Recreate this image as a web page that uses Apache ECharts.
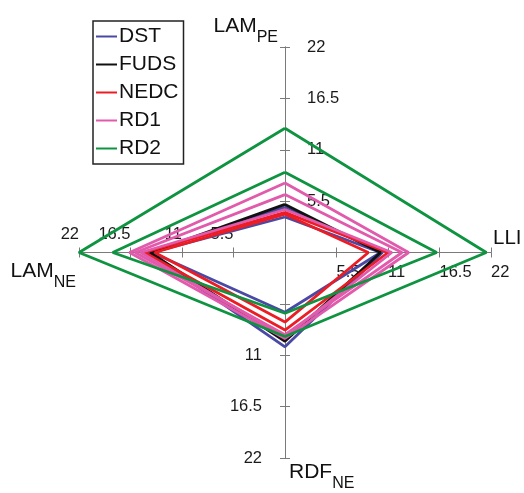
<!DOCTYPE html>
<html>
<head>
<meta charset="utf-8">
<script src="https://cdn.jsdelivr.net/npm/echarts@6/dist/echarts.min.js"></script>
<style>html,body{margin:0;padding:0;background:#fff;}#c{width:524px;height:493px;}</style>
</head>
<body>
<div id="c"></div>
<script>
// Axis order of every polygon: [LAM_PE (up), LLI (right), RDF_NE (down), LAM_NE (left)]
const indicators = ['LAM_PE', 'LLI', 'RDF_NE', 'LAM_NE'];
const tickValues = [5.5, 11, 16.5, 22];
const testNames = ['DST', 'FUDS', 'NEDC', 'RD1', 'RD2'];
const DST  = [[4.85, 10.4, 10.1, 14.6], [3.8, 10.2, 6.4, 14.2]];
const FUDS = [[5.15, 10.2, 9.5, 14.4]];
const NEDC = [[4.3, 11.0, 8.3, 15.0], [4.1, 8.9, 7.45, 13.9]];
const RD1  = [[7.45, 13.2, 9.2, 16.6], [6.2, 12.5, 8.8, 16.0], [4.6, 11.4, 9.0, 15.4]];
const RD2  = [[13.3, 21.5, 9.0, 22.0], [8.6, 16.2, 6.5, 18.4]];
const colors = {DST: '#4a4aa6', FUDS: '#111111', NEDC: '#ec1c24', RD1: '#e15aab', RD2: '#0e9440'};

const FONT = 'Liberation Sans, Arial, sans-serif';
const axisColor = '#7a7a7a';
const maxV = tickValues[tickValues.length - 1];
const step = tickValues[0];

const G = {left: 79, right: 33, top: 47, bottom: 35, W: 524, H: 493};
const halfW = (G.W - G.left - G.right) / 2;
const halfH = (G.H - G.top - G.bottom) / 2;

// map the four indicator values onto the cross of value axes
function toPath(p) {
  return [[0, p[0]], [p[1], 0], [0, -p[2]], [-p[3], 0], [0, p[0]]];
}
const groups = {DST, FUDS, NEDC, RD1, RD2};
const series = [];
testNames.forEach(n => {
  groups[n].forEach(poly => {
    series.push({
      type: 'line', name: n, xAxisIndex: 0, yAxisIndex: 0,
      data: toPath(poly), symbol: 'none', silent: true,
      lineStyle: {color: colors[n], width: 2.8},
      itemStyle: {color: colors[n]}
    });
  });
});

const rich = {
  a: {fontSize: 21, lineHeight: 22, verticalAlign: 'top', fontFamily: FONT, color: '#111'},
  b: {fontSize: 16, lineHeight: 16, padding: [14, 0, 0, 0], verticalAlign: 'top', fontFamily: FONT, color: '#111'}
};
function baseAxis(extra) {
  return Object.assign({
    type: 'value', min: -maxV, max: maxV, interval: step,
    splitLine: {show: false},
    nameMoveOverlap: false,
    axisLine: {onZero: false, lineStyle: {color: axisColor, width: 1}},
    axisTick: {show: true, length: 5, lineStyle: {color: axisColor, width: 1}},
  }, extra);
}
const lbl = (fmt, align, margin) => ({showMinLabel: true, showMaxLabel: true, fontSize: 16.5, color: '#1a1a1a', fontFamily: FONT, formatter: fmt, align, margin});
const fmtPos = v => (v > 0.001 ? String(+v.toFixed(1)) : '');
const fmtNeg = v => (v < -0.001 ? String(+(-v).toFixed(1)) : '');
// on the downward axis the first label is covered by the curves in the original
const fmtNegDown = v => (v < -step - 0.001 ? String(+(-v).toFixed(1)) : '');

const option = {
  backgroundColor: '#fff',
  animation: false,
  grid: {left: G.left, right: G.right, top: G.top, bottom: G.bottom, containLabel: false, outerBoundsMode: 'none'},
  legend: {
    orient: 'vertical', left: 93, top: 21,
    data: testNames,
    icon: 'rect', itemWidth: 21, itemHeight: 2, itemGap: 7,
    borderColor: '#222', borderWidth: 1.5, padding: [5, 5, 5, 3],
    textStyle: {fontSize: 21, color: '#111', fontFamily: FONT, lineHeight: 21, padding: [0, 0, 0, -3]}
  },
  xAxis: [
    baseAxis({
      position: 'bottom', offset: -halfH,
      axisLabel: lbl(fmtPos, 'left', 11),
      name: 'LLI', nameLocation: 'end', nameGap: 2,
      nameTextStyle: {fontSize: 20.5, fontFamily: FONT, color: '#111', align: 'left', verticalAlign: 'bottom', lineHeight: 22, padding: [0, 0, 3, 0]}
    }),
    baseAxis({
      position: 'top', offset: -halfH,
      axisLabel: lbl(fmtNeg, 'right', 10),
      name: '{a|LAM}{b|NE}', nameLocation: 'start', nameGap: 3,
      nameTextStyle: {rich, align: 'right', verticalAlign: 'top', padding: [8, 0, 0, 0]}
    })
  ],
  yAxis: [
    baseAxis({
      position: 'right', offset: -halfW,
      axisLabel: lbl(fmtPos, 'left', 22),
      name: '{a|LAM}{b|PE}', nameLocation: 'end', nameGap: 9,
      nameTextStyle: {rich, align: 'right', verticalAlign: 'bottom', padding: [0, 7, 0, 0]}
    }),
    baseAxis({
      position: 'left', offset: -halfW,
      axisLabel: lbl(fmtNegDown, 'right', 23),
      name: '{a|RDF}{b|NE}', nameLocation: 'start', nameGap: 4,
      nameTextStyle: {rich, align: 'left', verticalAlign: 'top', padding: [0, 0, 0, 4]}
    })
  ],
  series
};
const chart = echarts.init(document.getElementById('c'), null, {renderer: 'canvas'});
chart.setOption(option);
</script>
</body>
</html>
